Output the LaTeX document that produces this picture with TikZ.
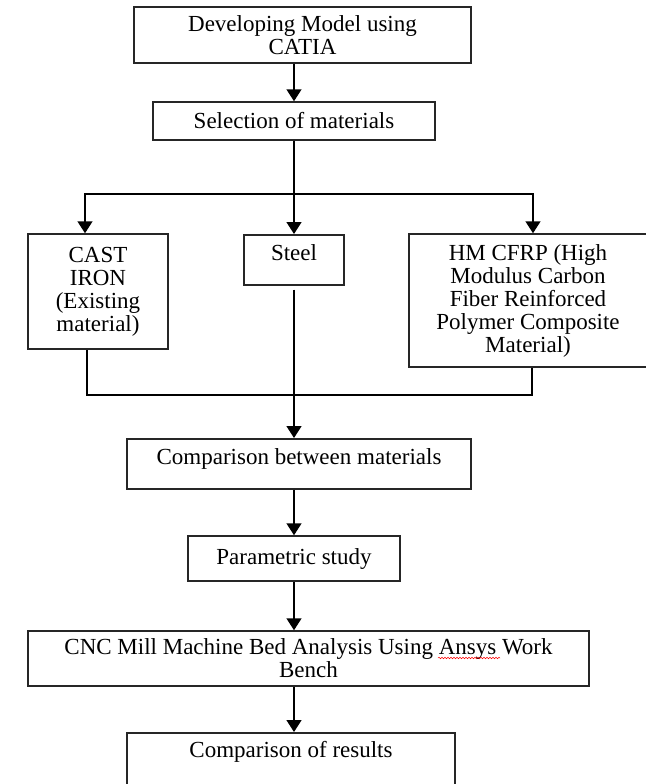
\documentclass[tikz,border=0pt]{standalone}
\usepackage{fontspec}
\setmainfont{Liberation Serif}
\usetikzlibrary{positioning, arrows.meta, decorations.pathmorphing}

\begin{document}
\begin{tikzpicture}[x=1pt,y=1pt,line width=1.5pt,>={Triangle[width=15pt,length=12pt]}]
\tikzset{box/.style={draw=black!85,align=center,inner sep=0pt,font=\fontsize{23}{23}\selectfont},
  topbox/.style={box,anchor=north,text height=26pt,text depth=24pt}}
\useasboundingbox (0,0) rectangle (645,-784);

\node[box,minimum width=337pt,minimum height=56pt] (catia) at (302.5,-35) {Developing Model using\\CATIA};
\node[box,minimum width=282pt,minimum height=38pt] (sel) at (294,-121) {Selection of materials};
\node[box,minimum width=140pt,minimum height=115pt] (cast) at (98,-291.5) {CAST\\IRON\\(Existing\\material)};
\node[topbox,minimum width=100pt] (steel) at (294,-234) {Steel};
\node[box,minimum width=238pt,minimum height=133pt] (hm) at (528,-300.5) {HM CFRP (High\\Modulus Carbon\\Fiber Reinforced\\Polymer Composite\\Material)};
\node[topbox,minimum width=344pt] (comp) at (299,-438) {Comparison between materials};
\node[box,minimum width=212pt,minimum height=45pt] (param) at (294,-558.5) {Parametric study};
\node[box,minimum width=561pt,minimum height=55pt] (cnc) at (308.5,-658.5) {CNC Mill Machine Bed Analysis Using Ansys Work\\Bench};
\node[topbox,minimum width=328pt,text height=25pt,text depth=80pt] (res) at (291,-732) {Comparison of results};

% spell-check squiggle under Ansys
\draw[red,line width=0.5pt,decorate,decoration={snake,segment length=3pt,amplitude=0.8pt}] (438,-658) -- (500,-658);

\draw[->] (sel.north |- catia.south) -- (sel.north);
\draw[->] (sel.south) -- (steel.north);
\draw[->] (sel.south) -- ++(0,-53) -| ([xshift=-13pt]cast.north);
\draw[->] (sel.south) -- ++(0,-53) -| ([xshift=5pt]hm.north);
\draw ([xshift=-11pt]cast.south) -- ++(0,-45) -| ([xshift=4pt]hm.south);
\draw[->,shorten <=4pt] (steel.south) -- (steel.south |- comp.north);
\draw[->] (param.north |- comp.south) -- (param.north);
\draw[->] (param.south) -- (param.south |- cnc.north);
\draw[->] (param.south |- cnc.south) -- (param.south |- res.north);
\end{tikzpicture}
\end{document}
